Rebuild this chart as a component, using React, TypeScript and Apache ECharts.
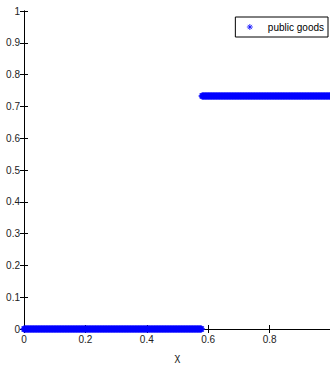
import React, { useEffect, useRef } from "react";
import * as echarts from "echarts";

// step-shaped data
const lowValue = 0;
const highValue = 0.733;
const switchPoint = 0.58;
const sampleStep = 0.002;
const xTicks = [0, 0.2, 0.4, 0.6, 0.8];
const yTicks = [0, 0.1, 0.2, 0.3, 0.4, 0.5, 0.6, 0.7, 0.8, 0.9, 1];
const seriesName = "public goods";
const xName = "χ";

const asterisk =
  "path://M5,0L5,10M0,5L10,5M1.5,1.5L8.5,8.5M1.5,8.5L8.5,1.5";

function buildPoints(): [number, number][] {
  const pts: [number, number][] = [];
  const n = Math.round(1 / sampleStep);
  for (let i = 0; i <= n; i++) {
    const x = +(i * sampleStep).toFixed(4);
    pts.push([x, x < switchPoint ? lowValue : highValue]);
  }
  return pts;
}

export default function App() {
  const ref = useRef<HTMLDivElement>(null);
  useEffect(() => {
    if (!ref.current) return;
    const chart = echarts.init(ref.current, undefined, { renderer: "svg" });
    const font = "Liberation Sans";
    const axisLine = { show: true, lineStyle: { color: "#000", width: 1 } };
    const fmt = (v: number) => String(+v.toFixed(2));
    chart.setOption({
      animation: false,
      backgroundColor: "#fff",
      grid: {
        left: 24,
        top: 11,
        width: 307,
        height: 318,
        containLabel: false,
        outerBoundsMode: "none",
      },
      legend: {
        right: 2,
        top: 17,
        orient: "horizontal",
        data: [{ name: seriesName, icon: asterisk }],
        itemWidth: 26,
        itemHeight: 6,
        padding: [5, 4, 5, 11],
        borderColor: "#000",
        borderWidth: 1,
        backgroundColor: "#fff",
        itemStyle: { color: "#0000ff", borderColor: "#0000ff", borderWidth: 1 },
        textStyle: { fontFamily: font, fontSize: 10, color: "#000" },
      },
      xAxis: [
        {
          type: "value",
          min: 0,
          max: 1,
          interval: 0.2,
          name: xName,
          nameLocation: "middle",
          nameGap: 22,
          nameTextStyle: { fontFamily: font, fontSize: 11, color: "#222" },
          axisLine,
          axisTick: { show: true, inside: true, length: 4, lineStyle: { color: "#000" } },
          axisLabel: {
            fontFamily: font,
            fontSize: 10,
            color: "#222",
            margin: 5,
            formatter: fmt,
            customValues: xTicks,
          },
          splitLine: { show: false },
        },
        {
          type: "value",
          position: "top",
          min: 0,
          max: 1,
          interval: 0.2,
          axisLine,
          axisTick: { show: true, inside: true, length: 4, lineStyle: { color: "#000" } },
          axisLabel: { show: false },
          splitLine: { show: false },
        },
      ],
      yAxis: [
        {
          type: "value",
          min: 0,
          max: 1,
          interval: 0.1,
          axisLine,
          axisTick: { show: true, inside: true, length: 4, lineStyle: { color: "#000" } },
          axisLabel: {
            fontFamily: font,
            fontSize: 10,
            color: "#222",
            margin: 4,
            formatter: fmt,
            customValues: yTicks,
          },
          splitLine: { show: false },
        },
        {
          type: "value",
          position: "right",
          min: 0,
          max: 1,
          interval: 0.1,
          axisLine,
          axisTick: { show: true, inside: true, length: 4, lineStyle: { color: "#000" } },
          axisLabel: { show: false },
          splitLine: { show: false },
        },
      ],
      series: [
        {
          name: seriesName,
          type: "scatter",
          data: buildPoints(),
          symbol: asterisk,
          symbolSize: 7,
          symbolKeepAspect: true,
          itemStyle: { color: "#0000ff", borderColor: "#0000ff", borderWidth: 1.5 },
          clip: false,
        },
      ],
    });
    return () => chart.dispose();
  }, []);
  return (
    <div
      ref={ref}
      style={{ position: "fixed", left: 0, top: 0, width: 330, height: 365 }}
    />
  );
}
